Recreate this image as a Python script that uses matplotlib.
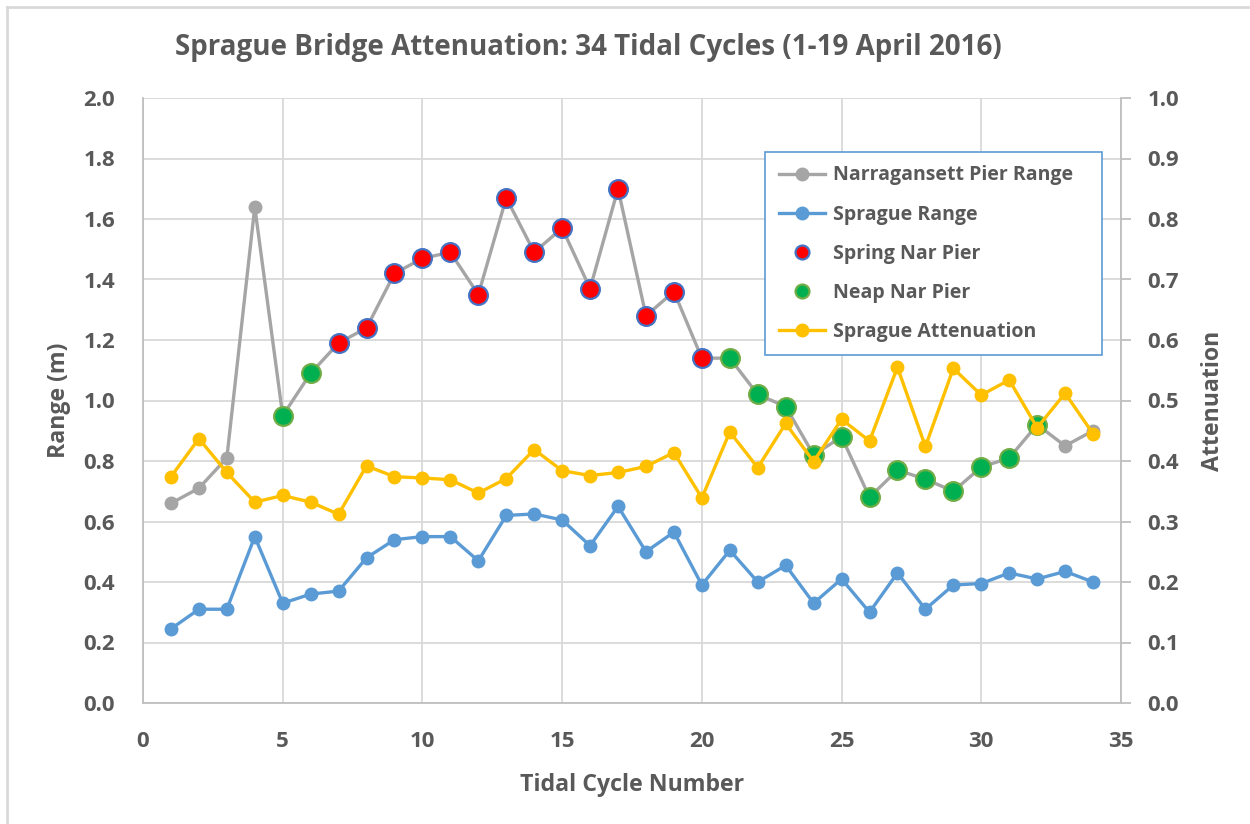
import matplotlib
matplotlib.use("Agg")
import matplotlib.pyplot as plt
from matplotlib.lines import Line2D
import numpy as np

plt.rcParams['font.family'] = ['Open Sans', 'DejaVu Sans']

cycles = list(range(1, 35))
nar_range = [0.66, 0.71, 0.81, 1.64, 0.95, 1.09, 1.19, 1.24, 1.42, 1.47, 1.49, 1.35,
             1.67, 1.49, 1.57, 1.37, 1.70, 1.28, 1.36, 1.14, 1.14, 1.02, 0.98, 0.82,
             0.88, 0.68, 0.77, 0.74, 0.70, 0.78, 0.81, 0.92, 0.85, 0.90]
sprague_range = [0.245, 0.31, 0.31, 0.55, 0.33, 0.36, 0.37, 0.48, 0.54, 0.55, 0.55, 0.47,
                 0.62, 0.625, 0.605, 0.52, 0.65, 0.50, 0.565, 0.39, 0.505, 0.40, 0.455, 0.33,
                 0.41, 0.30, 0.43, 0.31, 0.39, 0.395, 0.43, 0.41, 0.435, 0.40]
attenuation = [0.374, 0.437, 0.381, 0.332, 0.343, 0.332, 0.312, 0.392, 0.374, 0.372, 0.369, 0.347,
               0.371, 0.419, 0.384, 0.376, 0.381, 0.391, 0.414, 0.339, 0.448, 0.389, 0.462, 0.399,
               0.469, 0.433, 0.555, 0.424, 0.553, 0.509, 0.534, 0.455, 0.512, 0.445]
spring_cycles = [7, 8, 9, 10, 11, 12, 13, 14, 15, 16, 17, 18, 19, 20]
neap_cycles = [5, 6, 21, 22, 23, 24, 25, 26, 27, 28, 29, 30, 31, 32]

spring_vals = [nar_range[c - 1] for c in spring_cycles]
neap_vals = [nar_range[c - 1] for c in neap_cycles]

TXT = '#595959'
GRID = '#D9D9D9'
GRAY = '#A5A5A5'
BLUE = '#5B9BD5'
YEL = '#FFC000'

fig = plt.figure(figsize=(12.5, 8.24), dpi=100)
ax = fig.add_axes([143/1250, 1 - 703/824, (1121-143)/1250, (703-98)/824])

ax.plot(cycles, nar_range, color=GRAY, lw=2.4, marker='o', ms=9, zorder=3,
        label='Narragansett Pier Range')
ax.plot(cycles, sprague_range, color=BLUE, lw=2.4, marker='o', ms=9, zorder=3,
        label='Sprague Range')
ax.plot(spring_cycles, spring_vals, ls='none', marker='o', ms=13.5, mfc='#FF0000',
        mec='#4472C4', mew=1.6, zorder=4, label='Spring Nar Pier')
ax.plot(neap_cycles, neap_vals, ls='none', marker='o', ms=13.5, mfc='#00B050',
        mec='#70AD47', mew=1.6, zorder=4, label='Neap Nar Pier')

ax.set_xlim(0, 35)
ax.set_ylim(0, 2.0)
ax.set_xticks(range(0, 36, 5))
ax.set_yticks(np.arange(0, 2.01, 0.2))
ax.set_yticklabels([f'{v:.1f}' for v in np.arange(0, 2.01, 0.2)])
ax.grid(True, color=GRID, lw=1.3, zorder=0)
ax.set_axisbelow(True)
for s in ['top', 'right']:
    ax.spines[s].set_visible(False)
for s in ['left', 'bottom']:
    ax.spines[s].set_color('#BFBFBF')
    ax.spines[s].set_linewidth(1.3)
ax.tick_params(axis='both', length=0, labelsize=16, labelcolor=TXT)
ax.tick_params(axis='y', pad=20)
ax.tick_params(axis='x', pad=20)
for lab in ax.get_xticklabels() + ax.get_yticklabels():
    lab.set_fontweight('bold')

ax2 = ax.twinx()
ax2.plot(cycles, attenuation, color=YEL, lw=2.4, marker='o', ms=9, zorder=5,
         label='Sprague Attenuation')
ax2.set_ylim(0, 1.0)
ax2.set_yticks(np.arange(0, 1.01, 0.1))
ax2.set_yticklabels([f'{v:.1f}' for v in np.arange(0, 1.01, 0.1)])
for s in ['top', 'left', 'bottom']:
    ax2.spines[s].set_visible(False)
ax2.spines['right'].set_color('#BFBFBF')
ax2.spines['right'].set_linewidth(1.3)
ax2.tick_params(axis='y', length=7, width=1.3, color='#BFBFBF', labelsize=16,
                labelcolor=TXT, pad=12)
for lab in ax2.get_yticklabels():
    lab.set_fontweight('bold')

ax.set_xlabel('Tidal Cycle Number', fontsize=16.7, fontweight='bold', color=TXT)
ax.xaxis.set_label_coords(0.5, -0.116)
ax.set_ylabel('Range (m)', fontsize=16.7, fontweight='bold', color=TXT)
ax.yaxis.set_label_coords(-0.074, 0.5)
ax2.set_ylabel('Attenuation', fontsize=16.7, fontweight='bold', color=TXT)
ax2.yaxis.set_label_coords(1.082, 0.5)

fig.text(588/1250, 1 - 47/824, 'Sprague Bridge Attenuation: 34 Tidal Cycles (1-19 April 2016)',
         ha='center', va='center', fontsize=20, fontweight='bold', color=TXT)

handles = [
    Line2D([], [], color=GRAY, lw=2.4, marker='o', ms=9),
    Line2D([], [], color=BLUE, lw=2.4, marker='o', ms=9),
    Line2D([], [], ls='none', marker='o', ms=10, mfc='#FF0000', mec='#4472C4', mew=1.6),
    Line2D([], [], ls='none', marker='o', ms=10, mfc='#00B050', mec='#70AD47', mew=1.6),
    Line2D([], [], color=YEL, lw=2.4, marker='o', ms=9),
]
labels = ['Narragansett Pier Range', 'Sprague Range', 'Spring Nar Pier',
          'Neap Nar Pier', 'Sprague Attenuation']
leg = ax2.legend(handles, labels, loc='upper left',
                 bbox_to_anchor=(0.636, 0.585, 0.345, 0.326), mode='expand',
                 fontsize=14, frameon=True, fancybox=False, framealpha=1,
                 edgecolor='#5B9BD5', labelspacing=0.98, handlelength=2.4,
                 handletextpad=0.4, borderpad=0.7, borderaxespad=0)
leg.get_frame().set_linewidth(1.2)
for t in leg.get_texts():
    t.set_color(TXT)
    t.set_fontweight('bold')
leg.set_zorder(10)

# outer border (left and top visible)
fig.add_artist(Line2D([7/1250, 7/1250], [0, 1 - 7/824], color='#D9D9D9', lw=2,
                      transform=fig.transFigure))
fig.add_artist(Line2D([7/1250, 1], [1 - 7/824, 1 - 7/824], color='#D9D9D9', lw=2,
                      transform=fig.transFigure))

fig.savefig('out.png', dpi=100)
